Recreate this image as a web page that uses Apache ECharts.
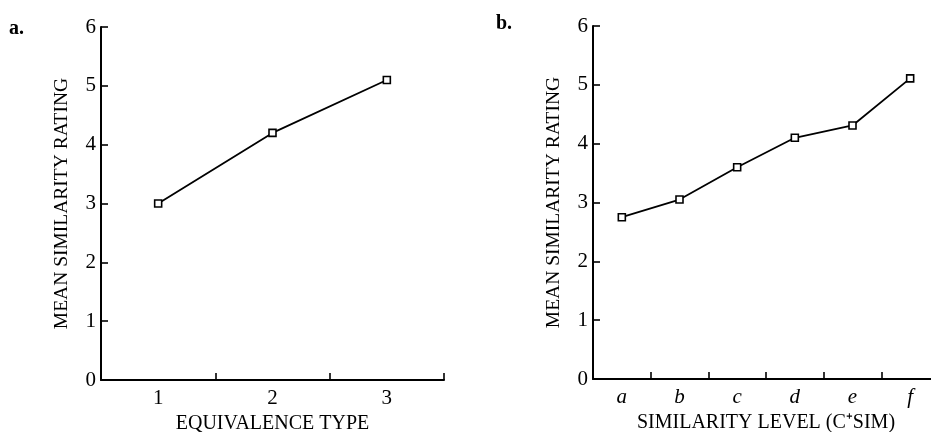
<!DOCTYPE html>
<html>
<head>
<meta charset="utf-8">
<script src="https://cdn.jsdelivr.net/npm/echarts@6/dist/echarts.min.js"></script>
<style>
  html, body { margin: 0; padding: 0; background: #fff; }
  #main { width: 931px; height: 432px; }
</style>
</head>
<body>
<div id="main"></div>
<script>
var equivTypes = ['1', '2', '3'];
var equivRatings = [3.0, 4.2, 5.1];

var simLevels = ['a', 'b', 'c', 'd', 'e', 'f'];
var simRatings = [2.75, 3.05, 3.6, 4.1, 4.31, 5.11];

var yTicks = [0, 6, 1]; // min, max, interval

var font = 'Liberation Serif';
var myChart = echarts.init(document.getElementById('main'));

function yAxisOpt(gridIndex) {
  return {
    type: 'value',
    gridIndex: gridIndex,
    min: yTicks[0], max: yTicks[1], interval: yTicks[2],
    name: 'MEAN SIMILARITY RATING',
    nameLocation: 'middle',
    nameGap: 29,
    nameTextStyle: { fontFamily: font, fontSize: 19.5, color: '#000' },
    axisLine: { show: true, lineStyle: { color: '#000', width: 2 } },
    axisTick: { show: true, inside: true, length: 7, lineStyle: { color: '#000', width: 1.6 } },
    axisLabel: { fontFamily: font, fontSize: 21, color: '#000', margin: 5 },
    splitLine: { show: false }
  };
}

function xAxisOpt(gridIndex, data, name, italic, gap) {
  return {
    type: 'category',
    gridIndex: gridIndex,
    data: data,
    boundaryGap: true,
    name: name,
    nameLocation: 'middle',
    nameGap: gap,
    nameTextStyle: { fontFamily: font, fontSize: 20, color: '#000' },
    axisLine: { show: true, lineStyle: { color: '#000', width: 2 } },
    axisTick: { show: true, inside: true, length: 7, lineStyle: { color: '#000', width: 1.6 } },
    axisLabel: {
      fontFamily: font, fontSize: 21, color: '#000', margin: 8,
      fontStyle: italic ? 'italic' : 'normal'
    },
    splitLine: { show: false }
  };
}

function lineSeries(idx, data) {
  return {
    type: 'line',
    xAxisIndex: idx,
    yAxisIndex: idx,
    data: data,
    symbol: 'rect',
    symbolSize: 7,
    color: '#000',
    lineStyle: { color: '#000', width: 1.8 },
    itemStyle: { color: '#fff', borderColor: '#000', borderWidth: 1.6 },
    animation: false
  };
}

var option = {
  backgroundColor: '#fff',
  animation: false,
  graphic: [
    { type: 'text', left: 9, top: 19, style: { text: 'a.', font: 'bold 20px "Liberation Serif"', fill: '#000' } },
    { type: 'text', left: 496, top: 14, style: { text: 'b.', font: 'bold 20px "Liberation Serif"', fill: '#000' } }
  ],
  grid: [
    { left: 101, top: 27, right: 487, bottom: 52, outerBoundsMode: 'none' },
    { left: 593, top: 26, right: -8, bottom: 53, outerBoundsMode: 'none' }
  ],
  xAxis: [
    xAxisOpt(0, equivTypes, 'EQUIVALENCE TYPE', false, 31),
    xAxisOpt(1, simLevels, 'SIMILARITY LEVEL (C\u207ASIM)', true, 32)
  ],
  yAxis: [yAxisOpt(0), yAxisOpt(1)],
  series: [
    lineSeries(0, equivRatings),
    lineSeries(1, simRatings)
  ]
};
myChart.setOption(option);
</script>
</body>
</html>
